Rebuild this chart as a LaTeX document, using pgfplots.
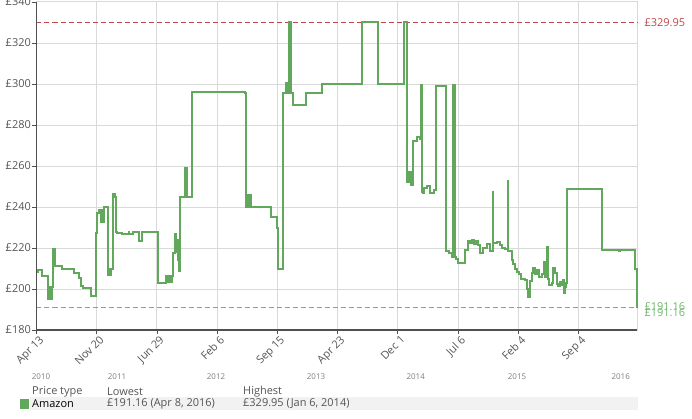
\documentclass[border=0pt]{standalone}
\usepackage{fontspec}
\setmainfont{Open Sans}
\usepackage{pgfplots}
\pgfplotsset{compat=1.18}

\definecolor{pricegreen}{RGB}{98,168,92}
\definecolor{lowgreen}{RGB}{110,185,105}
\definecolor{highred}{RGB}{192,72,72}
\definecolor{gridc}{RGB}{217,217,217}
\definecolor{axisc}{RGB}{80,80,80}
\definecolor{labelc}{RGB}{85,85,85}
\definecolor{yearc}{RGB}{125,125,125}
\definecolor{bandc}{RGB}{242,242,242}

\begin{document}
\begin{tikzpicture}[x=1bp,y=1bp]
\path[use as bounding box] (-36.5,-88) rectangle (655.5,330);
\begin{axis}[
    at={(0,0)}, anchor=south west,
    scale only axis, width=600.8bp, height=328bp,
    xmin=0, xmax=2205, ymin=180, ymax=340,
    xtick={0,221,442,663,884,1105,1326,1547,1768,1989},
    xticklabels={Apr 13,Nov 20,Jun 29,Feb 6,Sep 15,Apr 23,Dec 1,Jul 6,Feb 4,Sep 4},
    ytick={180,200,...,340},
    yticklabels={£180,£200,£220,£240,£260,£280,£300,£320,£340},
    xtick pos=lower, ytick pos=left,
    tick align=outside, major tick length=4bp,
    tick style={axisc, line width=0.8bp},
    grid=major, grid style={gridc, line width=1bp},
    axis line style={gridc, line width=1bp},
    ticklabel style={font=\fontsize{11}{12}\selectfont, text=labelc},
    xticklabel style={rotate=45, anchor=north east, inner sep=1bp, xshift=2bp, yshift=-1bp},
    yticklabel style={inner sep=1.5bp},
    clip=false,
]
% lowest / highest reference lines
\addplot[lowgreen, line width=1bp, dash pattern=on 5bp off 3bp] coordinates {(0,191.16) (2205,191.16)};
\addplot[highred, line width=1bp, dash pattern=on 5bp off 3bp] coordinates {(0,329.95) (2205,329.95)};
% Amazon price history (days since Apr 13, 2010)
\addplot[const plot, pricegreen, line width=2bp, line join=miter] coordinates {
(0,208.4)(4,209.3)(19,206.5)(44,195)(47,201)(49,195)(51,201)(53,195)(56,201)
(59,219.5)(62,211)(63,219.5)(65,211)(67,219.5)(69,211)(92,209.6)(139,208)
(155,205.5)(162,201.5)(170,200.3)(199,196.7)(218,227.2)(222,237.2)(228,238.5)
(235,232.8)(238,238.5)(240,232.8)(243,238.5)(246,232.8)(249,240.2)(264,206.8)
(266,210)(269,206.8)(271,210)(273,206.8)(275,210)(279,246.2)(288,245)(292,228)
(297,227.5)(313,226.7)(338,227.7)(341,226.7)(353,228)(375,223.6)(387,228)
(445,203.1)(475,206.3)(481,203.3)(490,206.3)(494,203.3)(497,206.3)(502,217.4)
(509,226.8)(513,218)(516,224)(518,214)(520,222)(523,208.8)(527,244.7)
(546,258.9)(549,244.7)(550,258.9)(553,244.7)(570,296.1)(765,295.5)(770,240.2)
(773,245.8)(775,240.2)(778,245.8)(781,240.2)(784,245.8)(786,240.2)(860,235)
(882,230)(886,209.8)(904,295.8)(915,300.3)(919,295.8)(928,330)(931,295.8)
(933,330)(935,295.8)(940,289.9)(988,295.8)(1047,300.1)(1195,330)(1252,300)
(1349,330)(1361,252)(1363,256.9)(1365,252)(1367,256.9)(1373,250.7)(1376,256)
(1378,250.7)(1381,272.3)(1395,274)(1407,273)(1411,299.5)(1414,247.5)(1420,246.8)
(1421,249.1)(1434,250.4)(1444,247)(1459,248.3)(1465,299)(1502,218.7)(1515,217.7)
(1525,215.8)(1527,299.4)(1530,215.8)(1532,299.4)(1535,215.6)(1540,214.4)
(1548,212.8)(1573,219)(1585,223.6)(1591,222.5)(1598,224)(1606,222)(1613,223.5)
(1621,221.5)(1628,217.4)(1639,220)(1652,222)(1664,218.5)(1674,247.5)(1676,222.6)
(1690,223)(1701,221.5)(1707,220.2)(1719,219.5)(1729,252.8)(1731,218.7)(1744,214)
(1750,212)(1756,210)(1763,208.5)(1771,207.3)(1778,205)(1793,204.4)(1801,200)
(1805,196.2)(1811,204)(1817,208)(1821,210.1)(1830,207.5)(1836,209.3)(1844,205.7)
(1854,207.5)(1863,213.4)(1867,206)(1874,220.3)(1876,205)(1882,202)(1891,203)
(1894,210.1)(1903,208)(1909,202.5)(1915,201.5)(1921,203.5)(1927,202)(1931,204.5)
(1936,197.9)(1941,201)(1944,203)(1947,248.8)(2076,219.2)(2137,218.3)(2143,219.2)
(2195,210)(2203,191.2)(2205,191.2)
};
% dark left and bottom axis lines
\draw[axisc, line width=1.2bp] (rel axis cs:0,0) -- (rel axis cs:0,1);
\draw[axisc, line width=1.2bp] (rel axis cs:0,0) -- (rel axis cs:1,0);
% value labels on the right
\node[anchor=west, text=highred, font=\fontsize{11}{12}\selectfont, inner sep=0pt] at (axis cs:2205,329.95) [xshift=7bp] {£329.95};
\node[anchor=west, text=lowgreen, font=\fontsize{11}{12}\selectfont, inner sep=0pt] at (axis cs:2205,191.16) [xshift=7bp, yshift=0.5bp] {£191.16};
\node[anchor=west, text=lowgreen, font=\fontsize{11}{12}\selectfont, inner sep=0pt] at (axis cs:2205,191.16) [xshift=7bp, yshift=-5bp] {£191.16};
\end{axis}
% year labels
\begin{scope}[every node/.style={font=\fontsize{8}{9}\selectfont, text=yearc, inner sep=0pt}]
\node at (4.5,-47) {2010};
\node at (80.5,-47) {2011};
\node at (179.5,-47) {2012};
\node at (279.5,-47) {2013};
\node at (379.2,-47) {2014};
\node at (480.5,-47) {2015};
\node at (584.2,-47) {2016};
\end{scope}
% price type table
\fill[bandc] (-6.5,-80) rectangle (601.2,-67.3);
\fill[pricegreen] (-16.5,-79) rectangle (-7.5,-69);
\begin{scope}[every node/.style={font=\fontsize{11}{12}\selectfont, inner sep=0pt, anchor=west}]
\node[text=labelc] at (-4.5,-62) {Price type};
\node[text=labelc] at (70.5,-62) {Lowest};
\node[text=labelc] at (206.5,-62) {Highest};
\node[text=black] at (-4.5,-74) {Amazon};
\node[text=labelc] at (70.5,-74) {£191.16 (Apr 8, 2016)};
\node[text=labelc] at (206.5,-74) {£329.95 (Jan 6, 2014)};
\end{scope}
\end{tikzpicture}
\end{document}
